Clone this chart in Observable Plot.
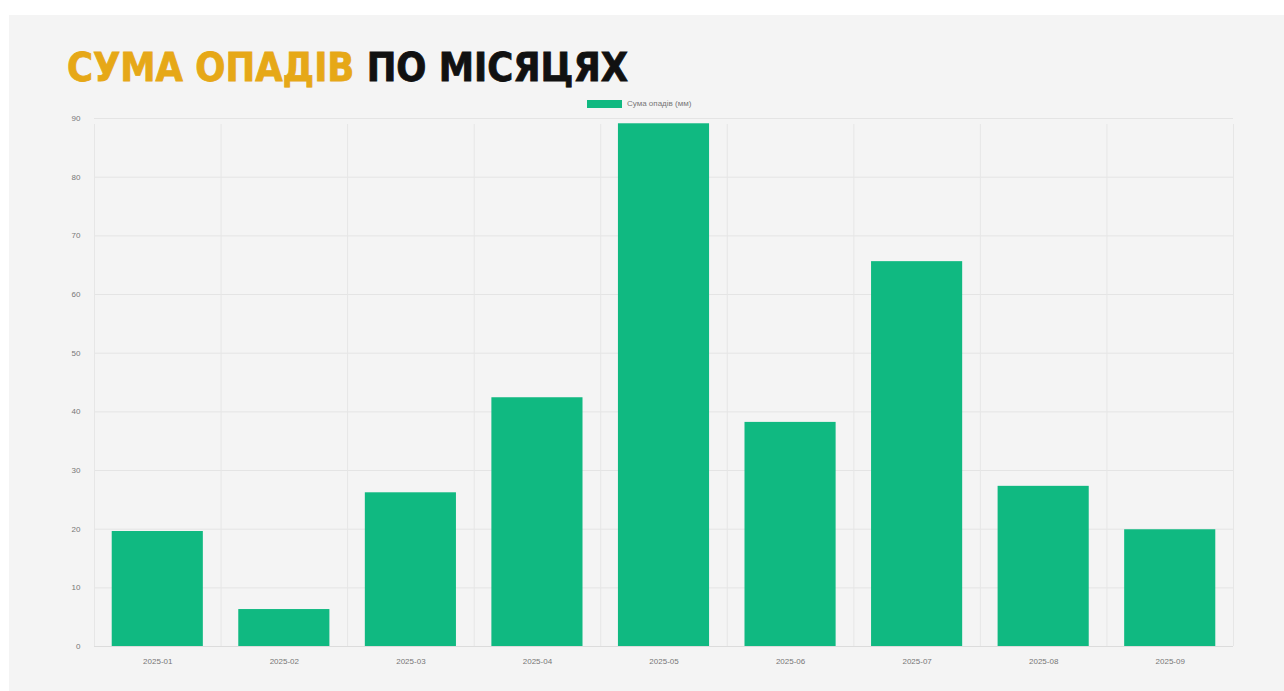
<!DOCTYPE html>
<html>
<head>
<meta charset="utf-8">
<script src="https://cdn.jsdelivr.net/npm/d3@7"></script>
<script src="https://cdn.jsdelivr.net/npm/@observablehq/plot@0.6"></script>
<style>
  html, body { margin: 0; padding: 0; background: #ffffff; }
  #panel { position: absolute; left: 9px; top: 15px; width: 1275px; height: 676px; background: #f4f4f4; }
  #title { position: absolute; left: 58px; top: 29px; margin: 0; font-family: "DejaVu Sans Condensed", "Liberation Sans", sans-serif; font-weight: 700; font-size: 39.4px; letter-spacing: 0px; color: #111; white-space: nowrap; -webkit-text-stroke: 0.8px currentColor; }
  #title .hl { color: #e6a817; }
  #legend { position: absolute; left: 578px; top: 84px; font-family: "Liberation Sans", Arial, sans-serif; font-size: 8px; color: #777; display: flex; align-items: center; gap: 5px; }
  #legend .sw { width: 35px; height: 8px; background: #10b981; }
  #chart { position: absolute; left: 6px; top: 95px; }
</style>
</head>
<body>
<div id="panel">
  <h1 id="title"><span class="hl">СУМА ОПАДІВ</span> ПО МІСЯЦЯХ</h1>
  <div id="legend"><span class="sw"></span><span>Сума опадів (мм)</span></div>
  <div id="chart"></div>
</div>
<script>
const months = ["2025-01","2025-02","2025-03","2025-04","2025-05","2025-06","2025-07","2025-08","2025-09"];
const precipitation = [19.6, 6.3, 26.2, 42.4, 89.1, 38.2, 65.6, 27.3, 19.9];
const yTicks = [0,10,20,30,40,50,60,70,80,90];
const seriesLabel = "Сума опадів (мм)";

const data = months.map((m, i) => ({month: m, value: precipitation[i]}));

const W = 1262, H = 576;
const mL = 79, mR = 44, mT = 8, mB = 40;
const step = (W - mL - mR) / months.length;

const chart = Plot.plot({
  width: W,
  height: H,
  marginLeft: mL,
  marginRight: mR,
  marginTop: mT,
  marginBottom: mB,
  style: {background: "transparent", fontFamily: "Liberation Sans, Arial, sans-serif", fontSize: "8px", color: "#777"},
  x: {domain: months, paddingInner: 0.28, paddingOuter: 0.14, round: false, label: null, tickSize: 0, tickPadding: 12},
  y: {domain: [0, 90], ticks: yTicks, label: null, tickSize: 0, tickPadding: 14},
  marks: [
    Plot.ruleY(yTicks, {stroke: "#e4e4e4", strokeWidth: 1}),
    Plot.ruleX(months, {x: d => d, dx: -step / 2, stroke: "#e6e6e6", y1: 0, y2: 90, insetBottom: -6}),
    Plot.ruleX([months[months.length - 1]], {x: d => d, dx: step / 2, stroke: "#e6e6e6", y1: 0, y2: 90, insetBottom: -6}),
    Plot.barY(data, {x: "month", y: "value", fill: "#10b981", title: d => `${seriesLabel}: ${d.value}`}),
    Plot.ruleY([0], {stroke: "#dcdcdc"})
  ]
});
document.getElementById("chart").appendChild(chart);
</script>
</body>
</html>
